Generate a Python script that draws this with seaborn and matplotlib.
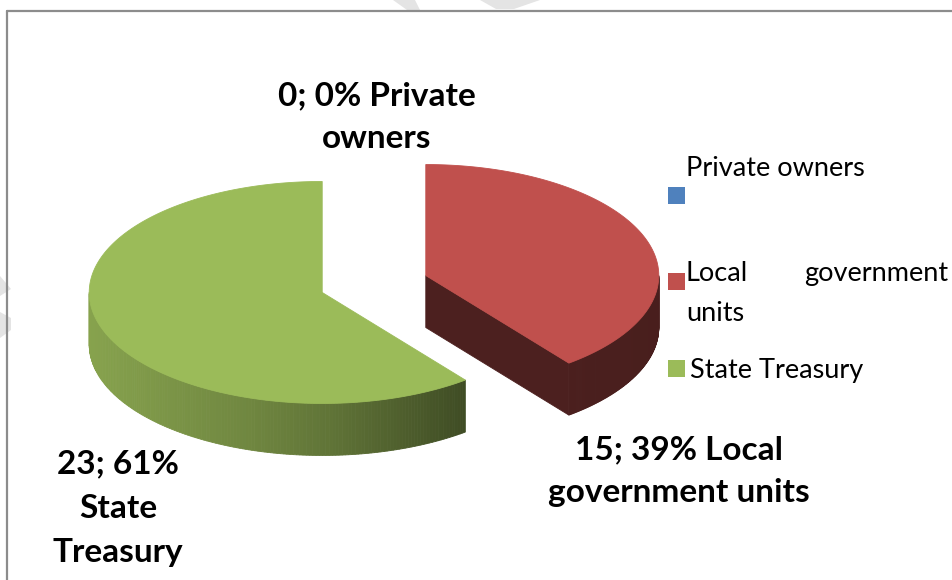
import numpy as np
import matplotlib
matplotlib.use("Agg")
import matplotlib.pyplot as plt
from matplotlib.patches import Polygon, Rectangle
from matplotlib.colors import to_rgb
import seaborn as sns

# ownership structure
categories = ["Private owners", "Local government units", "State Treasury"]
counts = [0, 15, 23]
slice_colors = ["#4F81BD", "#C0504D", "#9BBB59"]

sns.set_theme(style="white")
plt.rcParams["font.family"] = ["Lato", "DejaVu Sans"]
palette = sns.color_palette(slice_colors)

fig = plt.figure(figsize=(9.53, 5.8), dpi=100)
ax = fig.add_axes([0, 0, 1, 1])
ax.set_xlim(0, 953)
ax.set_ylim(580, 0)
ax.axis("off")

# faint background strokes
wm = "#e4e4e4"
for pts in ([(393, 0), (415, 0), (420, 10), (407, 10)],
            [(480, 0), (540, 0), (514, 9), (496, 9)],
            [(0, 276), (11, 289), (0, 296)],
            [(0, 312), (11, 318), (11, 330), (0, 338)]):
    ax.add_patch(Polygon(pts, closed=True, fc=wm, ec="none", zorder=0))

# frame
ax.plot([7.5, 7.5], [580, 10.5], color="#8c8c8c", lw=1.6, zorder=1)
ax.plot([7.5, 953], [10.5, 10.5], color="#8c8c8c", lw=1.6, zorder=1)

# 3-D pie geometry (pixel space)
CX, CY = 374.0, 284.0
RX, RY = 233.0, 111.0
DEPTH = 52.0
EXPLODE = 0.235

total = float(sum(counts))
bounds = np.concatenate([[0.0], np.cumsum(counts)]) / total * 360.0


def rim(theta, cx, cy, dz=0.0):
    t = np.radians(theta)
    return cx + RX * np.sin(t), cy - RY * np.cos(t) + dz


def shade(base, x):
    f = np.interp(x, [88, 250, 330, 470, 660], [0.87, 0.72, 0.62, 0.40, 0.38])
    return tuple(np.clip(np.array(to_rgb(base)) * f, 0, 1))


order = [2, 1, 0]
for i in order:
    start, end = bounds[i], bounds[i + 1]
    if end - start <= 0:
        continue
    base = palette[i]
    mid = 0.5 * (start + end)
    cx = CX + EXPLODE * RX * np.sin(np.radians(mid))
    cy = CY - EXPLODE * RY * np.cos(np.radians(mid))

    # visible outer wall
    lo, hi = max(start, 90.0), min(end, 270.0)
    if hi > lo:
        th = np.linspace(lo, hi, 160)
        for a0, a1 in zip(th[:-1], th[1:]):
            x0, y0 = rim(a0, cx, cy)
            x1, y1 = rim(a1, cx, cy)
            c = shade(base, 0.5 * (x0 + x1))
            ax.add_patch(Polygon([(x0, y0), (x1, y1), (x1, y1 + DEPTH), (x0, y0 + DEPTH)],
                                 closed=True, fc=c, ec=c, lw=0.6, zorder=2))

    # cut face at the trailing edge when it faces the viewer
    if 90.0 < end < 270.0:
        ex, ey = rim(end, cx, cy)
        c = shade(base, 0.5 * (cx + ex))
        ax.add_patch(Polygon([(cx, cy), (ex, ey), (ex, ey + DEPTH), (cx, cy + DEPTH)],
                             closed=True, fc=c, ec=c, lw=0.6, zorder=2))

    # top face
    th = np.linspace(start, end, 240)
    xs, ys = rim(th, cx, cy)
    pts = [(cx, cy)] + list(zip(xs, ys))
    ax.add_patch(Polygon(pts, closed=True, fc=base, ec=base, lw=0.6, zorder=3))

# data labels
pct = [round(100 * c / total) for c in counts]
lab_kw = dict(ha="center", va="baseline", fontsize=24, fontweight="bold", color="black", zorder=5)
lines0 = [f"{counts[0]}; {pct[0]}% Private", "owners"]
lines1 = [f"{counts[1]}; {pct[1]}% Local", "government units"]
lines2 = [f"{counts[2]}; {pct[2]}%", "State", "Treasury"]
for k, s in enumerate(lines0):
    ax.text(377, 105 + 43 * k, s, **lab_kw)
for k, s in enumerate(lines1):
    ax.text(679, 459 + 43 * k, s, **lab_kw)
for k, s in enumerate(lines2):
    ax.text(118, 473 + 44.5 * k, s, **lab_kw)

# legend
leg_kw = dict(va="baseline", fontsize=19.5, color="black", zorder=5)
sq = 17
ax.add_patch(Rectangle((668, 187), sq, sq, fc=palette[0], ec="none", zorder=5))
ax.text(686, 176, categories[0], ha="left", **leg_kw)
ax.add_patch(Rectangle((668, 273), sq, sq, fc=palette[1], ec="none", zorder=5))
ax.text(686, 281, "Local", ha="left", **leg_kw)
ax.text(948, 281, "government", ha="right", **leg_kw)
ax.text(686, 321, "units", ha="left", **leg_kw)
ax.add_patch(Rectangle((668, 360), sq, sq, fc=palette[2], ec="none", zorder=5))
ax.text(690, 378, categories[2], ha="left", **leg_kw)

fig.savefig("out.png", dpi=100, facecolor="white")
